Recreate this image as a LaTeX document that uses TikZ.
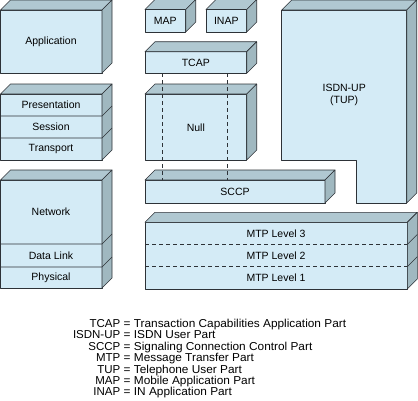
\documentclass[tikz,border=0pt]{standalone}
\usepackage{fontspec}
\setmainfont{Liberation Sans}
\definecolor{frontc}{RGB}{212,235,246}
\definecolor{topc}{RGB}{176,200,209}
\definecolor{sidec}{RGB}{160,184,192}
\definecolor{edgec}{RGB}{45,50,55}
\newcommand{\cubebox}[4]{%
  \filldraw[frontface] (#1,#2) rectangle (#3,#4);
  \filldraw[topface] (#1,#2) -- ++(10,-10) -- (#3+10,#2-10) -- (#3,#2) -- cycle;
  \filldraw[sideface] (#3,#2) -- ++(10,-10) -- (#3+10,#4-10) -- (#3,#4) -- cycle;
}
\newcommand{\solidsep}[3]{\draw[edge] (#1,#3) -- (#2,#3) -- ++(10,-10);}
\newcommand{\dashsep}[3]{\draw[edge,dash pattern=on 4pt off 3pt] (#1,#3) -- (#2,#3); \draw[edge] (#2,#3) -- ++(10,-10);}
\newcommand{\legtxt}[1]{\scalebox{1.03}[1]{#1}}
\begin{document}
\begin{tikzpicture}[x=1pt,y=-1pt,
  edge/.style={draw=edgec,line width=0.6pt,line join=round},
  frontface/.style={edge,fill=frontc},
  topface/.style={edge,fill=topc},
  sideface/.style={edge,fill=sidec},
  lbl/.style={font=\fontsize{10.5}{12}\selectfont,inner sep=0pt,align=center},
  leg/.style={font=\fontsize{11.5}{13}\selectfont,inner sep=0pt},
  vdash/.style={draw=edgec,line width=0.6pt,dash pattern=on 4pt off 3pt}]
\useasboundingbox (0,0) rectangle (418,400);
% OSI stack
\cubebox{0.5}{10}{102}{73}
\cubebox{0.5}{94}{102}{160}
\solidsep{0.5}{102}{116}
\solidsep{0.5}{102}{138}
\cubebox{0.5}{180}{102}{288}
\solidsep{0.5}{102}{244}
\solidsep{0.5}{102}{267}
% SS7 stack
\cubebox{145}{9.5}{185.7}{32}
\cubebox{206}{9.5}{246.7}{32}
\cubebox{145}{51.7}{246.7}{73.3}
\cubebox{145}{94}{246.7}{160}
\cubebox{145}{180}{325}{203}
% ISDN-UP
\filldraw[frontface] (281.7,10) -- (406.7,10) -- (406.7,203) -- (356,203) -- (356,160) -- (281.7,160) -- cycle;
\filldraw[topface] (281.7,10) -- ++(10,-10) -- (416.7,0) -- (406.7,10) -- cycle;
\filldraw[sideface] (406.7,10) -- ++(10,-10) -- (416.7,193) -- (406.7,203) -- cycle;
% MTP
\cubebox{145}{222.3}{407.3}{289}
\dashsep{145}{407.3}{244.5}
\dashsep{145}{407.3}{266.7}
% dashed lines TCAP - SCCP
\coordinate (t1) at (162.7,73.3);
\coordinate (t2) at (227.7,73.3);
\coordinate (s1) at (162.7,180);
\coordinate (s2) at (227.7,180);
\draw[vdash] (t1) -- (s1);
\draw[vdash] (t2) -- (s2);
% labels
\node[lbl] (app) at (51,41.5) {Application};
\node[lbl] (pres) at (51,105) {Presentation};
\node[lbl] (sess) at (51,127) {Session};
\node[lbl] (trans) at (51,149) {Transport};
\node[lbl] (net) at (51,212) {Network};
\node[lbl] (dl) at (51,255.5) {Data Link};
\node[lbl] (phy) at (51,277.5) {Physical};
\node[lbl] (map) at (165.3,20.7) {MAP};
\node[lbl] (inap) at (226.3,20.7) {INAP};
\node[lbl] (tcap) at (195.8,62.5) {TCAP};
\node[lbl] (null) at (195.8,127.5) {Null};
\node[lbl] (sccp) at (235,191.5) {SCCP};
\node[lbl] (isdn) at (344.2,95) {ISDN-UP\\(TUP)};
\node[lbl] (mtp3) at (276,233.3) {MTP Level 3};
\node[lbl] (mtp2) at (276,255.6) {MTP Level 2};
\node[lbl] (mtp1) at (276,277.8) {MTP Level 1};
% legend
\node[leg,anchor=base east] (la1) at (120.5,327.4) {TCAP};
\node[leg,anchor=base west] (lb1) at (123.5,327.4) {\legtxt{= Transaction Capabilities Application Part}};
\node[leg,anchor=base east] (la2) at (120.5,338.8) {ISDN-UP};
\node[leg,anchor=base west] (lb2) at (123.5,338.8) {\legtxt{= ISDN User Part}};
\node[leg,anchor=base east] (la3) at (120.5,350.2) {SCCP};
\node[leg,anchor=base west] (lb3) at (123.5,350.2) {\legtxt{= Signaling Connection Control Part}};
\node[leg,anchor=base east] (la4) at (120.5,361.6) {MTP};
\node[leg,anchor=base west] (lb4) at (123.5,361.6) {\legtxt{= Message Transfer Part}};
\node[leg,anchor=base east] (la5) at (120.5,373.0) {TUP};
\node[leg,anchor=base west] (lb5) at (123.5,373.0) {\legtxt{= Telephone User Part}};
\node[leg,anchor=base east] (la6) at (120.5,384.4) {MAP};
\node[leg,anchor=base west] (lb6) at (123.5,384.4) {\legtxt{= Mobile Application Part}};
\node[leg,anchor=base east] (la7) at (120.5,395.8) {INAP};
\node[leg,anchor=base west] (lb7) at (123.5,395.8) {\legtxt{= IN Application Part}};
\end{tikzpicture}
\end{document}
